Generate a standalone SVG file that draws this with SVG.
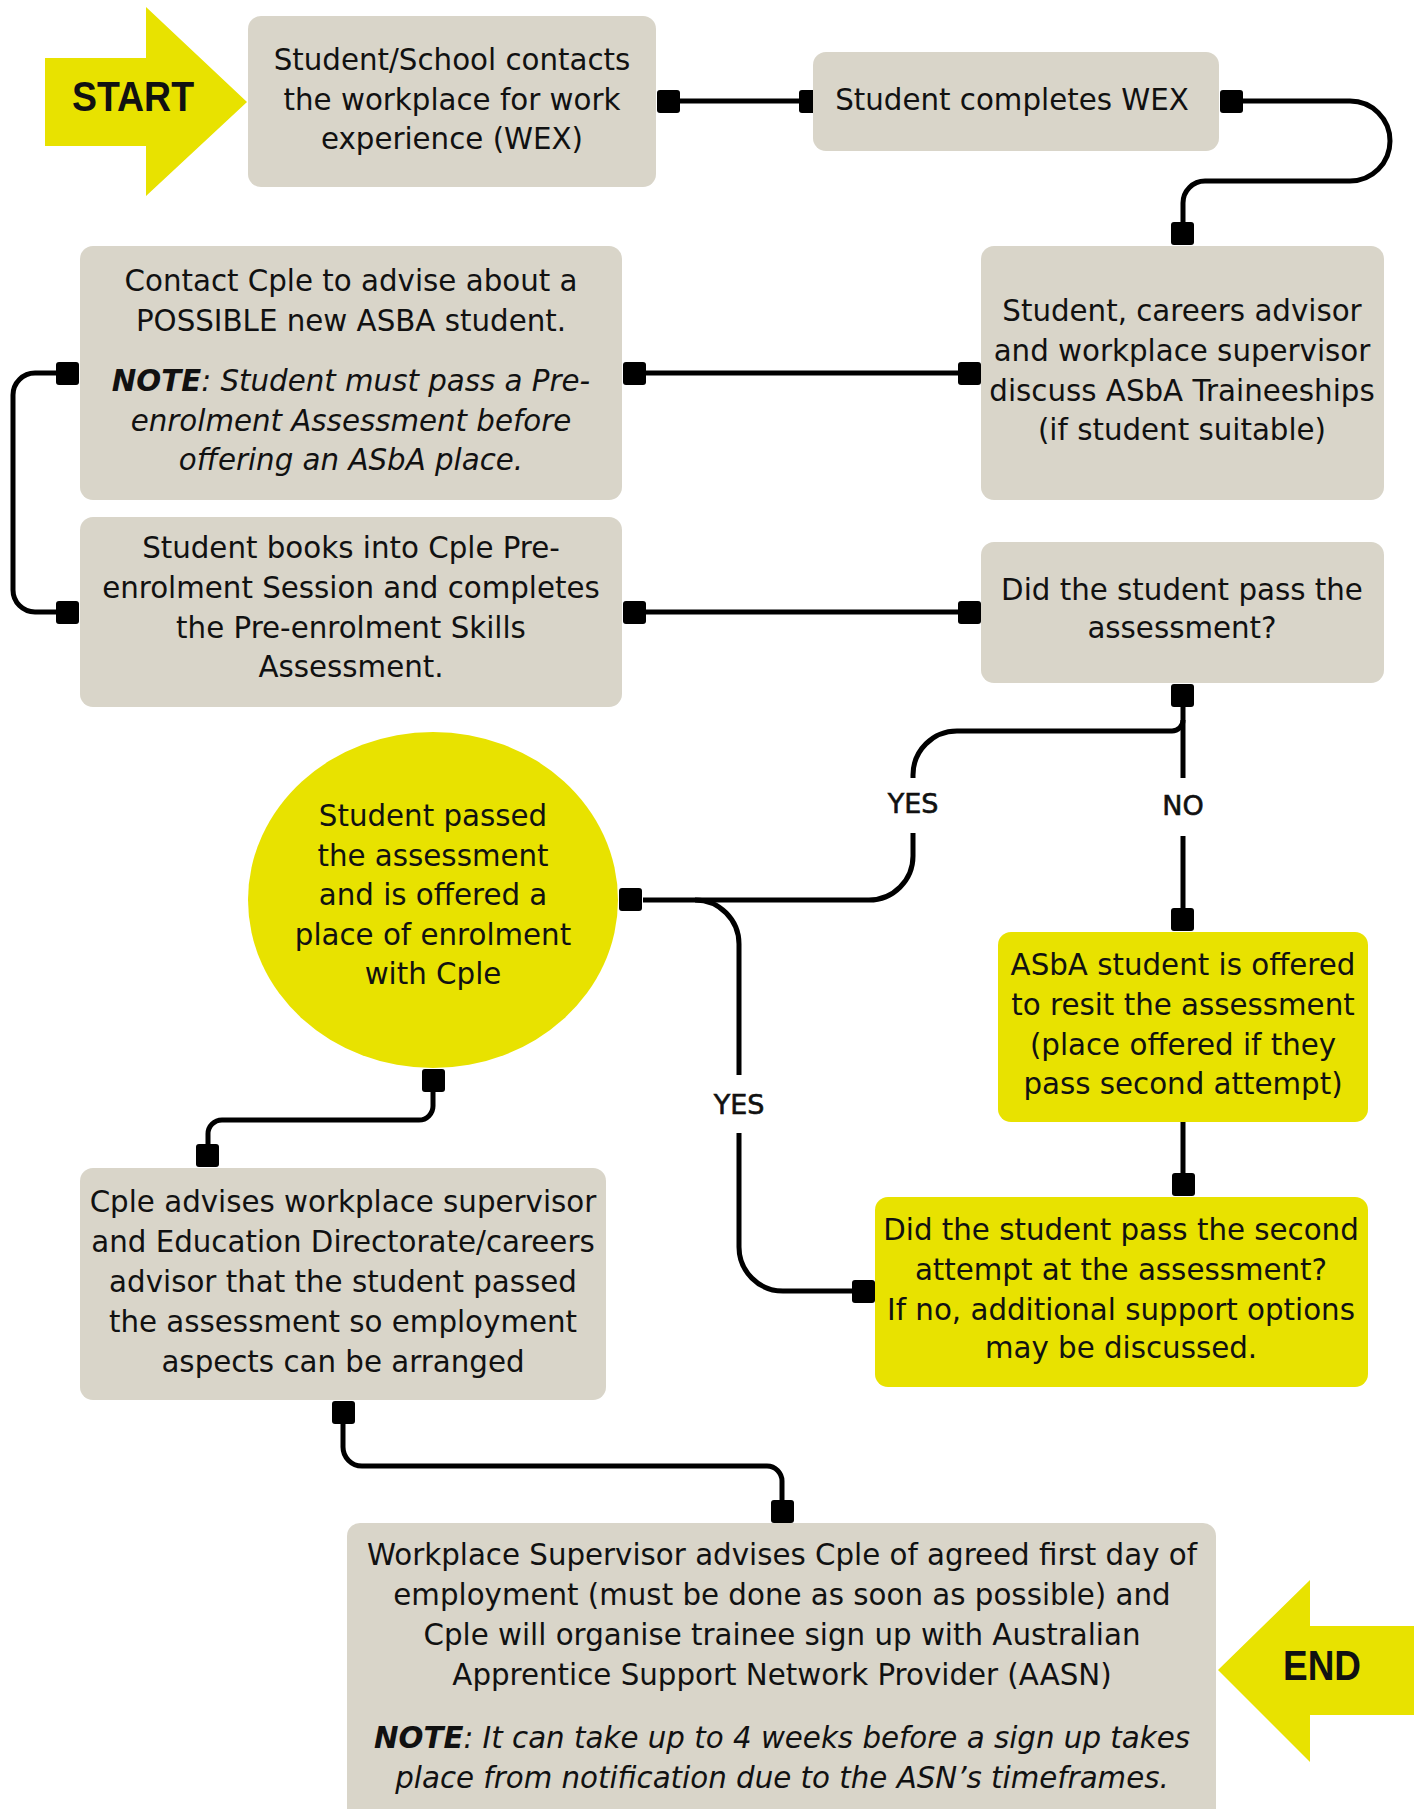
<svg xmlns="http://www.w3.org/2000/svg" width="1414" height="1809" viewBox="0 0 1414 1809">
<style>
.g{fill:#D9D5C9}
.y{fill:#E8E200}
.t{font-family:"DejaVu Sans","Liberation Sans",sans-serif;font-size:29.3px;fill:#111;text-anchor:middle}
.i{font-style:italic}
.b{font-weight:bold}
.lbl{font-family:"DejaVu Sans","Liberation Sans",sans-serif;font-size:27px;fill:#111;text-anchor:middle;stroke:#111;stroke-width:0.6}
.big{font-family:"Liberation Sans",Arial,sans-serif;font-weight:bold;font-size:42px;fill:#111;text-anchor:middle}
.c{fill:none;stroke:#000;stroke-width:5}
.h{fill:#000}
</style>
<defs>
<rect id="hd" width="23" height="23" rx="3"/>
</defs>

<g id="start">
<polygon class="y" points="45,58 146,58 146,7 247,102 146,196 146,146 45,146"/>
<text class="big" x="133" y="111" textLength="122" lengthAdjust="spacingAndGlyphs">START</text>
</g>

<g id="end">
<polygon class="y" points="1414,1626 1310,1626 1310,1580 1218,1670 1310,1762 1310,1715 1414,1715"/>
<text class="big" x="1322" y="1680" textLength="78" lengthAdjust="spacingAndGlyphs">END</text>
</g>

<g id="connectors">
<path class="c" d="M680,101 H799"/>
<path class="c" d="M1243,101 H1350 A40,40 0 0 1 1350,181 H1205 A22,22 0 0 0 1183,203 V222"/>
<path class="c" d="M645,373 H958"/>
<path class="c" d="M56,373 H35 A22,22 0 0 0 13,395 V590 A22,22 0 0 0 35,612 H56"/>
<path class="c" d="M645,612 H958"/>
<path class="c" d="M1183,707 V778"/>
<path class="c" d="M1183,720 A11,11 0 0 1 1172,731 H957 A44,44 0 0 0 913,775 V778"/>
<path class="c" d="M913,833 V856 A44,44 0 0 1 869,900 H643"/>
<path class="c" d="M695,900 A44,44 0 0 1 739,944 V1075"/>
<path class="c" d="M739,1133 V1247 A44,44 0 0 0 783,1291 H852"/>
<path class="c" d="M1183,836 V908"/>
<path class="c" d="M1183,1122 V1173"/>
<path class="c" d="M433,1092 V1106 A14,14 0 0 1 419,1120 H222 A14,14 0 0 0 208,1134 V1144"/>
<path class="c" d="M343,1424 V1447 A19,19 0 0 0 362,1466 H767 A15,15 0 0 1 782,1481 V1500"/>
<g class="h">
<use href="#hd" x="657" y="90"/>
<use href="#hd" x="799" y="90"/>
<use href="#hd" x="1220" y="90"/>
<use href="#hd" x="1171" y="222"/>
<use href="#hd" x="958" y="362"/>
<use href="#hd" x="623" y="362"/>
<use href="#hd" x="56" y="362"/>
<use href="#hd" x="56" y="601"/>
<use href="#hd" x="623" y="601"/>
<use href="#hd" x="958" y="601"/>
<use href="#hd" x="1171" y="684"/>
<use href="#hd" x="1171" y="908"/>
<use href="#hd" x="1172" y="1173"/>
<use href="#hd" x="852" y="1280"/>
<use href="#hd" x="619" y="888"/>
<use href="#hd" x="422" y="1069"/>
<use href="#hd" x="196" y="1144"/>
<use href="#hd" x="332" y="1401"/>
<use href="#hd" x="771" y="1500"/>
</g>
<text class="lbl" x="913" y="813">YES</text>
<text class="lbl" x="1183" y="815">NO</text>
<text class="lbl" x="739" y="1114">YES</text>
</g>

<g id="n1">
<rect class="g" x="248" y="16" width="408" height="171" rx="13"/>
<text class="t" x="452" y="70">Student/School contacts</text>
<text class="t" x="452" y="110">the workplace for work</text>
<text class="t" x="452" y="149">experience (WEX)</text>
</g>

<g id="n2">
<rect class="g" x="813" y="52" width="406" height="99" rx="13"/>
<text class="t" x="1012" y="110">Student completes WEX</text>
</g>

<g id="n3">
<rect class="g" x="981" y="246" width="403" height="254" rx="13"/>
<text class="t" x="1182" y="321">Student, careers advisor</text>
<text class="t" x="1182" y="361">and workplace supervisor</text>
<text class="t" x="1182" y="401">discuss ASbA Traineeships</text>
<text class="t" x="1182" y="440">(if student suitable)</text>
</g>

<g id="n5">
<rect class="g" x="80" y="246" width="542" height="254" rx="13"/>
<text class="t" x="351" y="291">Contact Cple to advise about a</text>
<text class="t" x="351" y="331">POSSIBLE new ASBA student.</text>
<text class="t i" x="351" y="391"><tspan class="b">NOTE</tspan>: Student must pass a Pre-</text>
<text class="t i" x="351" y="431">enrolment Assessment before</text>
<text class="t i" x="351" y="470">offering an ASbA place.</text>
</g>

<g id="n6">
<rect class="g" x="80" y="517" width="542" height="190" rx="13"/>
<text class="t" x="351" y="558">Student books into Cple Pre-</text>
<text class="t" x="351" y="598">enrolment Session and completes</text>
<text class="t" x="351" y="638">the Pre-enrolment Skills</text>
<text class="t" x="351" y="677">Assessment.</text>
</g>

<g id="n4">
<rect class="g" x="981" y="542" width="403" height="141" rx="13"/>
<text class="t" x="1182" y="600">Did the student pass the</text>
<text class="t" x="1182" y="638">assessment?</text>
</g>

<g id="n_passed">
<ellipse class="y" cx="433" cy="900" rx="185" ry="168"/>
<text class="t" x="433" y="826">Student passed</text>
<text class="t" x="433" y="866">the assessment</text>
<text class="t" x="433" y="905">and is offered a</text>
<text class="t" x="433" y="945">place of enrolment</text>
<text class="t" x="433" y="984">with Cple</text>
</g>

<g id="n_resit">
<rect class="y" x="998" y="932" width="370" height="190" rx="13"/>
<text class="t" x="1183" y="975">ASbA student is offered</text>
<text class="t" x="1183" y="1015">to resit the assessment</text>
<text class="t" x="1183" y="1055">(place offered if they</text>
<text class="t" x="1183" y="1094">pass second attempt)</text>
</g>

<g id="n_second">
<rect class="y" x="875" y="1197" width="493" height="190" rx="13"/>
<text class="t" x="1121" y="1240">Did the student pass the second</text>
<text class="t" x="1121" y="1280">attempt at the assessment?</text>
<text class="t" x="1121" y="1320">If no, additional support options</text>
<text class="t" x="1121" y="1358">may be discussed.</text>
</g>

<g id="n7">
<rect class="g" x="80" y="1168" width="526" height="232" rx="13"/>
<text class="t" x="343" y="1212">Cple advises workplace supervisor</text>
<text class="t" x="343" y="1252">and Education Directorate/careers</text>
<text class="t" x="343" y="1292">advisor that the student passed</text>
<text class="t" x="343" y="1332">the assessment so employment</text>
<text class="t" x="343" y="1372">aspects can be arranged</text>
</g>

<g id="n8">
<rect class="g" x="347" y="1523" width="869" height="310" rx="13"/>
<text class="t" x="782" y="1565">Workplace Supervisor advises Cple of agreed first day of</text>
<text class="t" x="782" y="1605">employment (must be done as soon as possible) and</text>
<text class="t" x="782" y="1645">Cple will organise trainee sign up with Australian</text>
<text class="t" x="782" y="1685">Apprentice Support Network Provider (AASN)</text>
<text class="t i" x="782" y="1748"><tspan class="b">NOTE</tspan>: It can take up to 4 weeks before a sign up takes</text>
<text class="t i" x="782" y="1788">place from notification due to the ASN’s timeframes.</text>
</g>
</svg>
